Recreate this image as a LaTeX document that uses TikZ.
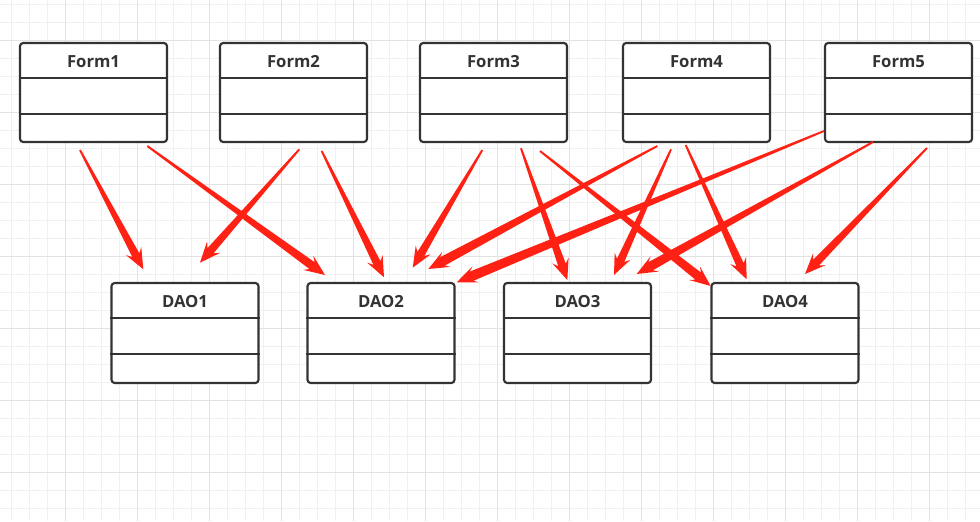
\documentclass[tikz,border=0pt]{standalone}
\usepackage{fontspec}
\setmainfont{Open Sans}
\usetikzlibrary{calc}
\definecolor{gridminor}{RGB}{240,240,240}
\definecolor{gridmajor}{RGB}{226,226,226}
\definecolor{boxcol}{RGB}{51,51,51}
\definecolor{arrowred}{RGB}{255,34,20}
\newcommand\tarr[3]{%
  \coordinate (hb) at ($(#2)!15.5pt!(#1)$);
  \coordinate (hn) at ($(#2)!12pt!(#1)$);
  \fill[arrowred] ($(#1)!0.7pt!90:(#2)$) -- ($(hn)!#3!90:(#2)$) -- ($(hb)!6.5pt!90:(#2)$) -- (#2)
     -- ($(hb)!6.5pt!-90:(#2)$) -- ($(hn)!#3!-90:(#2)$) -- ($(#1)!0.7pt!-90:(#2)$) -- cycle;
}
\begin{document}
\begin{tikzpicture}[x=0.75pt,y=-0.75pt,
  umlbox/.style={draw=boxcol, line width=1.6pt, fill=white, rounded corners=2.4pt,
    minimum width=110.25pt, minimum height=#1, inner sep=0pt},
  umlbox/.default=74.25pt,
  divline/.style={draw=boxcol, line width=1.6pt},
  umltitle/.style={text=boxcol, font=\fontsize{12.5pt}{14pt}\selectfont\bfseries, inner sep=0pt}]
\useasboundingbox (0,0) rectangle (980,521);
\fill[white] (0,0) rectangle (980,521);
\begin{scope}
\clip (0,0) rectangle (980,521);
\foreach \i in {0,...,54} {\draw[gridminor, line width=0.75pt] ({11.7+18*\i},0) -- ({11.7+18*\i},521);}
\foreach \i in {0,...,29} {\draw[gridminor, line width=0.75pt] (0,{4.3+18*\i}) -- (980,{4.3+18*\i});}
\foreach \i in {-1,...,13} {\draw[gridmajor, line width=0.75pt] ({65.7+72*\i},0) -- ({65.7+72*\i},521);}
\foreach \i in {0,...,7} {\draw[gridmajor, line width=0.75pt] (0,{40.3+72*\i}) -- (980,{40.3+72*\i});}
\end{scope}
% Form boxes
\foreach \n/\cx in {1/93.5,2/293.5,3/493.5,4/696.5,5/898.5} {
  \node[umlbox] (f\n) at (\cx,92.5) {};
  \draw[divline] ($(f\n.north west)+(0,36)$) -- ($(f\n.north east)+(0,36)$);
  \draw[divline] ($(f\n.north west)+(0,72)$) -- ($(f\n.north east)+(0,72)$);
  \node[umltitle] (f\n t) at ($(f\n.north)+(0,19.5)$) {Form\n};
}
% DAO boxes
\foreach \n/\cx in {1/185,2/381,3/577.5,4/785} {
  \node[umlbox=75pt] (d\n) at (\cx,333) {};
  \draw[divline] ($(d\n.north west)+(0,36)$) -- ($(d\n.north east)+(0,36)$);
  \draw[divline] ($(d\n.north west)+(0,72)$) -- ($(d\n.north east)+(0,72)$);
  \node[umltitle] (d\n t) at ($(d\n.north)+(0,19.5)$) {DAO\n};
}
% arrow end points
\coordinate (a1s) at (80,150);    \coordinate (a1e) at (143.3,269.3);
\coordinate (a2s) at (147.3,146); \coordinate (a2e) at (325,275);
\coordinate (a3s) at (299.3,149.3); \coordinate (a3e) at (200,262.7);
\coordinate (a4s) at (321.7,151); \coordinate (a4e) at (384,277.3);
\coordinate (a5s) at (482.3,150); \coordinate (a5e) at (412.7,267.7);
\coordinate (a6s) at (521,148.3); \coordinate (a6e) at (567.3,280);
\coordinate (a7s) at (540,151);   \coordinate (a7e) at (710.7,286);
\coordinate (a8s) at (657.3,146); \coordinate (a8e) at (428.3,269);
\coordinate (a9s) at (671,149.3); \coordinate (a9e) at (614,275);
\coordinate (a10s) at (685.7,145); \coordinate (a10e) at (746.7,279.3);
\coordinate (a11s) at (824,131);  \coordinate (a11e) at (456.7,282.3);
\coordinate (a12s) at (873,142);  \coordinate (a12e) at (636.7,274);
\coordinate (a13s) at (927,148);  \coordinate (a13e) at (805,274);
\tarr{a1s}{a1e}{3.0pt}
\tarr{a2s}{a2e}{3.2pt}
\tarr{a3s}{a3e}{3.0pt}
\tarr{a4s}{a4e}{3.0pt}
\tarr{a5s}{a5e}{3.0pt}
\tarr{a6s}{a6e}{3.0pt}
\tarr{a7s}{a7e}{3.4pt}
\tarr{a8s}{a8e}{3.6pt}
\tarr{a9s}{a9e}{3.0pt}
\tarr{a10s}{a10e}{3.0pt}
\tarr{a11s}{a11e}{3.7pt}
\tarr{a12s}{a12e}{3.5pt}
\tarr{a13s}{a13e}{3.1pt}
\end{tikzpicture}
\end{document}
